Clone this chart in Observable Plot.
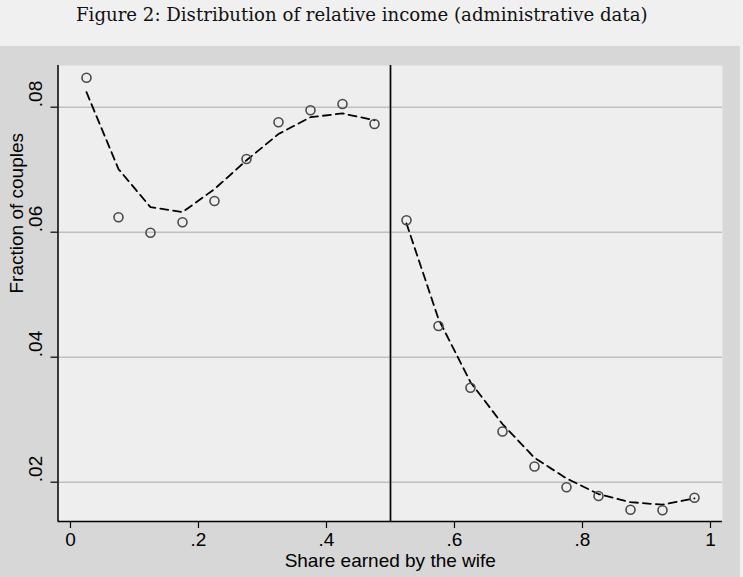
<!DOCTYPE html>
<html>
<head>
<meta charset="utf-8">
<script src="https://cdn.jsdelivr.net/npm/d3@7"></script>
<script src="https://cdn.jsdelivr.net/npm/@observablehq/plot@0.6"></script>
<style>
  html, body { margin: 0; padding: 0; background: #f0f0f0; }
  #title { position: relative; width: 743px; height: 46px; background: #f0f0f0; }
  #t { position: absolute; left: 76px; top: 4px; font-family: "DejaVu Serif", "Liberation Serif", serif; font-size: 16px; white-space: nowrap; color: #111; }
  #chart { width: 743px; height: 531px; }
  #chart svg { display: block; }
</style>
</head>
<body>
<div id="title"><span id="t">Figure 2: Distribution of relative income (administrative data)</span></div>
<div id="chart"></div>
<script>
// Bin midpoints of the wife's share of couple income
const share = [0.025, 0.075, 0.125, 0.175, 0.225, 0.275, 0.325, 0.375, 0.425, 0.475,
               0.525, 0.575, 0.625, 0.675, 0.725, 0.775, 0.825, 0.875, 0.925, 0.975];
// Observed fraction of couples (hollow circles)
const observed = [0.0847, 0.0624, 0.0599, 0.0616, 0.0650, 0.0717, 0.0776, 0.0795, 0.0805, 0.0773,
                  0.0619, 0.0450, 0.0351, 0.0281, 0.0225, 0.0192, 0.0178, 0.0156, 0.0155, 0.0175];
// Fitted values (dashed line), estimated separately on each side of 0.5
const fitted = [0.0824, 0.0701, 0.0640, 0.0632, 0.0669, 0.0715, 0.0757, 0.0784, 0.0790, 0.0779,
                0.0614, 0.0461, 0.0360, 0.0293, 0.0239, 0.0206, 0.0181, 0.0168, 0.0164, 0.0174];
const side = ["below","below","below","below","below","below","below","below","below","below",
              "above","above","above","above","above","above","above","above","above","above"];
const threshold = [0.5];
const xTicks = [0, 0.2, 0.4, 0.6, 0.8, 1];
const xTickLabels = ["0", ".2", ".4", ".6", ".8", "1"];
const yTicks = [0.02, 0.04, 0.06, 0.08];
const yTickLabels = [".02", ".04", ".06", ".08"];
const xTitle = "Share earned by the wife";
const yTitle = "Fraction of couples";

// fit title width to the reference (about 572px wide)
const t = document.getElementById("t");
const w = t.getBoundingClientRect().width;
const fs = Math.max(14, Math.min(19, 16 * 572 / w));
t.style.fontSize = fs + "px";

const rows = share.map((s, i) => ({share: s, observed: observed[i], fitted: fitted[i], side: side[i]}));
const xDomain = [-0.0195, 1.01875];
const yDomain = [0.01371, 0.08667];

const chart = Plot.plot({
  width: 740,
  height: 531,
  marginTop: 19,
  marginBottom: 56,
  marginLeft: 57.5,
  marginRight: 18,
  style: {background: "#d7d7d7", fontFamily: "'Liberation Sans', Arial, sans-serif", fontSize: "19px", color: "black"},
  x: {domain: xDomain},
  y: {domain: yDomain},
  marks: [
    Plot.frame({fill: "#eeeeee", stroke: null}),
    Plot.gridY(yTicks, {stroke: "#bfbfbf", strokeOpacity: 1, strokeWidth: 1.6}),
    Plot.axisY({ticks: yTicks, tickSize: 7, tickFormat: () => "", label: null, stroke: "black", strokeWidth: 1.2}),
    Plot.text(yTicks, {y: d => d, text: (d, i) => yTickLabels[i], frameAnchor: "left", dx: -22.5, rotate: -90, fill: "black", fontSize: 19}),
    Plot.axisX({ticks: xTicks, tickSize: 7, tickPadding: 4, tickFormat: d => xTickLabels[xTicks.indexOf(d)], label: null, stroke: "black", strokeWidth: 1.2, fontSize: 19, fill: "black"}),
    Plot.text([xTitle], {frameAnchor: "bottom", dy: 45, fontSize: 19, fill: "black"}),
    Plot.text([yTitle], {frameAnchor: "left", dx: -41.5, rotate: -90, fontSize: 19, fill: "black"}),
    Plot.ruleX(threshold, {stroke: "black", strokeWidth: 1.7}),
    Plot.line(rows, {x: "share", y: "fitted", z: "side", stroke: "black", strokeWidth: 1.8, strokeDasharray: "8,5"}),
    Plot.dot(rows, {x: "share", y: "observed", r: 4.5, stroke: "#4a4a4a", strokeWidth: 1.6, fill: "none"}),
    Plot.ruleX([xDomain[0]], {stroke: "black", strokeWidth: 1.5}),
    Plot.ruleY([yDomain[0]], {stroke: "black", strokeWidth: 1.5})
  ]
});
document.getElementById("chart").appendChild(chart);
</script>
</body>
</html>
